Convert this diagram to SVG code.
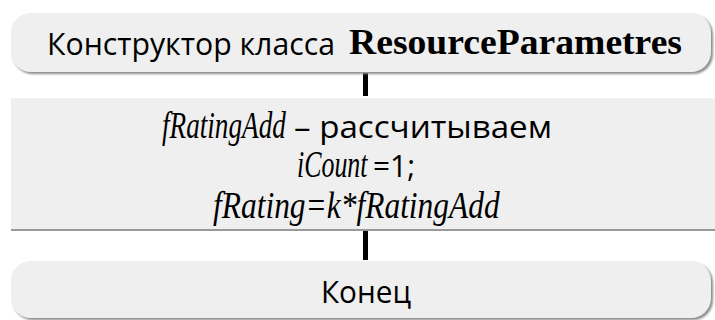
<svg xmlns="http://www.w3.org/2000/svg" width="715" height="320" viewBox="0 0 715 320">
<defs>
<style>
.box{fill:#efefef}
.shadow{fill:#8c8c8c}
.sans{font-family:"Open Sans","Noto Sans","DejaVu Sans",sans-serif;font-size:31px;fill:#000}
.serif{font-family:"Liberation Serif","Times New Roman",serif;font-size:35px;fill:#000}
.b{font-weight:bold}
.i{font-style:italic;font-size:37px}
.conn{stroke:#000;stroke-width:5;fill:none}
</style>
<filter id="blur" x="-5%" y="-20%" width="110%" height="140%"><feGaussianBlur stdDeviation="0.8"/></filter>
</defs>
<rect width="715" height="320" fill="#fff"/>
<g id="connectors">
<line class="conn" x1="365.5" y1="73" x2="365.5" y2="96"/>
<line class="conn" x1="365.5" y1="230" x2="365.5" y2="260"/>
</g>
<g id="start">
<rect class="shadow" x="13" y="15" width="700" height="59" rx="20" filter="url(#blur)"/>
<rect class="box" x="11" y="13" width="700" height="59" rx="20"/>
<text class="sans" x="47" y="55" textLength="288" lengthAdjust="spacingAndGlyphs">Конструктор класса</text>
<text class="serif b" x="349" y="54" textLength="333" lengthAdjust="spacingAndGlyphs">ResourceParametres</text>
</g>
<g id="process">
<rect class="box" x="11" y="98" width="704" height="131"/>
<rect x="11" y="229" width="704" height="2" fill="#999"/>
<text class="serif i" transform="translate(162 138) scale(0.735 1)">fRatingAdd</text>
<text class="sans" x="294" y="138" textLength="258" lengthAdjust="spacingAndGlyphs">– рассчитываем</text>
<text class="serif i" transform="translate(297 177) scale(0.7 1)">iCount</text>
<text class="sans" x="373" y="177" textLength="42" lengthAdjust="spacingAndGlyphs">=1;</text>
<text class="serif i" transform="translate(213 218) scale(0.85 1)">fRating=k*fRatingAdd</text>
</g>
<g id="end">
<rect class="shadow" x="13" y="263" width="700" height="57" rx="20" filter="url(#blur)"/>
<rect class="box" x="11" y="261" width="700" height="57" rx="20"/>
<text class="sans" x="321" y="303" textLength="90" lengthAdjust="spacingAndGlyphs">Конец</text>
</g>
</svg>
